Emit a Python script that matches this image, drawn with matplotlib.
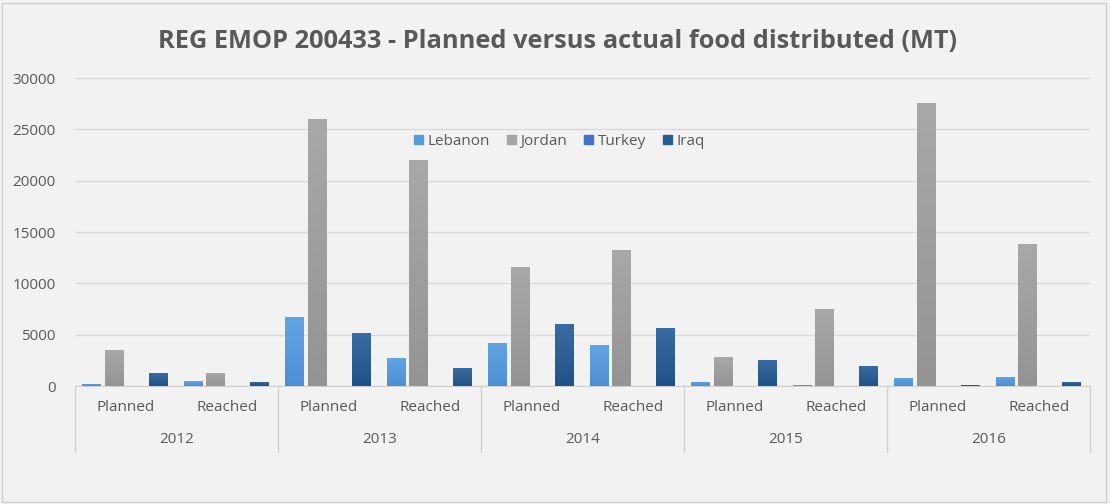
import matplotlib.pyplot as plt
import numpy as np
from matplotlib.colors import LinearSegmentedColormap
from matplotlib.patches import Rectangle

# dados (MT)
anos = ['2012', '2013', '2014', '2015', '2016']
tipos = ['Planned', 'Reached']
paises = ['Lebanon', 'Jordan', 'Turkey', 'Iraq']
lebanon = [200, 450, 6700, 2700, 4200, 4000, 400, 100, 800, 900]
jordan = [3500, 1300, 26000, 22000, 11600, 13250, 2800, 7500, 27600, 13800]
turkey = [0, 0, 0, 0, 0, 0, 0, 0, 0, 0]
iraq = [1300, 400, 5200, 1750, 6000, 5700, 2550, 2000, 150, 400]

series = [lebanon, jordan, turkey, iraq]
# cor do topo / cor da base (degradê suave)
cores = [('#62a5e2', '#4e8fd3'), ('#a8a8a8', '#949494'),
         ('#4a7bd0', '#3a66b8'), ('#3a6ca3', '#215287')]
cor_legenda = ['#5b9bd5', '#a5a5a5', '#4472c4', '#255e91']

plt.rcParams['font.family'] = ['Open Sans', 'DejaVu Sans']

fig = plt.figure(figsize=(11.1, 5.04), dpi=100)
fig.patch.set_facecolor('#f2f2f2')
fig.patches.append(Rectangle((0.002, 0.004), 0.994, 0.99, transform=fig.transFigure,
                             fill=False, edgecolor='#d0d0d0', linewidth=1))
ax = fig.add_axes([0.0676, 0.234, 0.9144, 0.611])
ax.set_facecolor('#f2f2f2')

x = np.arange(len(lebanon))
largura = 0.185
deslocs = [-0.335, -0.115, 0.105, 0.32]

for i, (vals, (c_top, c_bot)) in enumerate(zip(series, cores)):
    barras = ax.bar(x + deslocs[i], vals, width=largura, color=c_bot, zorder=3)
    cmap = LinearSegmentedColormap.from_list('g%d' % i, [c_bot, c_top])
    grad = np.linspace(0, 1, 100).reshape(-1, 1)
    for b in barras:
        if b.get_height() <= 0:
            continue
        x0, y0 = b.get_x(), b.get_y()
        im = ax.imshow(grad, cmap=cmap, origin='lower', aspect='auto',
                       extent=(x0, x0 + b.get_width(), y0, y0 + b.get_height()),
                       zorder=4)
        im.set_clip_path(b)

ax.set_xlim(-0.5, len(lebanon) - 0.5)
ax.set_ylim(0, 30000)
ax.set_yticks(range(0, 30001, 5000))
ax.tick_params(axis='y', length=0, labelsize=11, labelcolor='#595959', pad=14)
ax.set_xticks([])
ax.grid(axis='y', color='#d9d9d9', linewidth=1, zorder=0)
for lado in ['top', 'right', 'left']:
    ax.spines[lado].set_visible(False)
ax.spines['bottom'].set_color('#d0d0d0')

# eixo de categorias em dois níveis
for i in x:
    ax.text(i, -0.071, tipos[i % 2], transform=ax.get_xaxis_transform(),
            ha='center', va='center', fontsize=11, color='#595959')
for j, ano in enumerate(anos):
    ax.text(2 * j + 0.5, -0.175, ano, transform=ax.get_xaxis_transform(),
            ha='center', va='center', fontsize=11, color='#595959')
for xs in np.arange(-0.5, len(lebanon), 2):
    ax.plot([xs, xs], [0, -0.214], transform=ax.get_xaxis_transform(),
            color='#d0d0d0', linewidth=1, clip_on=False)

handles = [Rectangle((0, 0), 1, 1, color=c) for c in cor_legenda]
ax.legend(handles, paises, loc='center', bbox_to_anchor=(0.477, 0.795), ncol=4,
          frameon=False, fontsize=11, handlelength=0.6, handleheight=0.6,
          handletextpad=0.3, columnspacing=1.1, labelcolor='#595959')

fig.text(0.502, 0.918, 'REG EMOP 200433 - Planned versus actual food distributed (MT)',
         ha='center', va='center', fontsize=18.3, fontweight='bold', color='#595959')

fig.savefig('out.png', dpi=100, facecolor=fig.get_facecolor())
